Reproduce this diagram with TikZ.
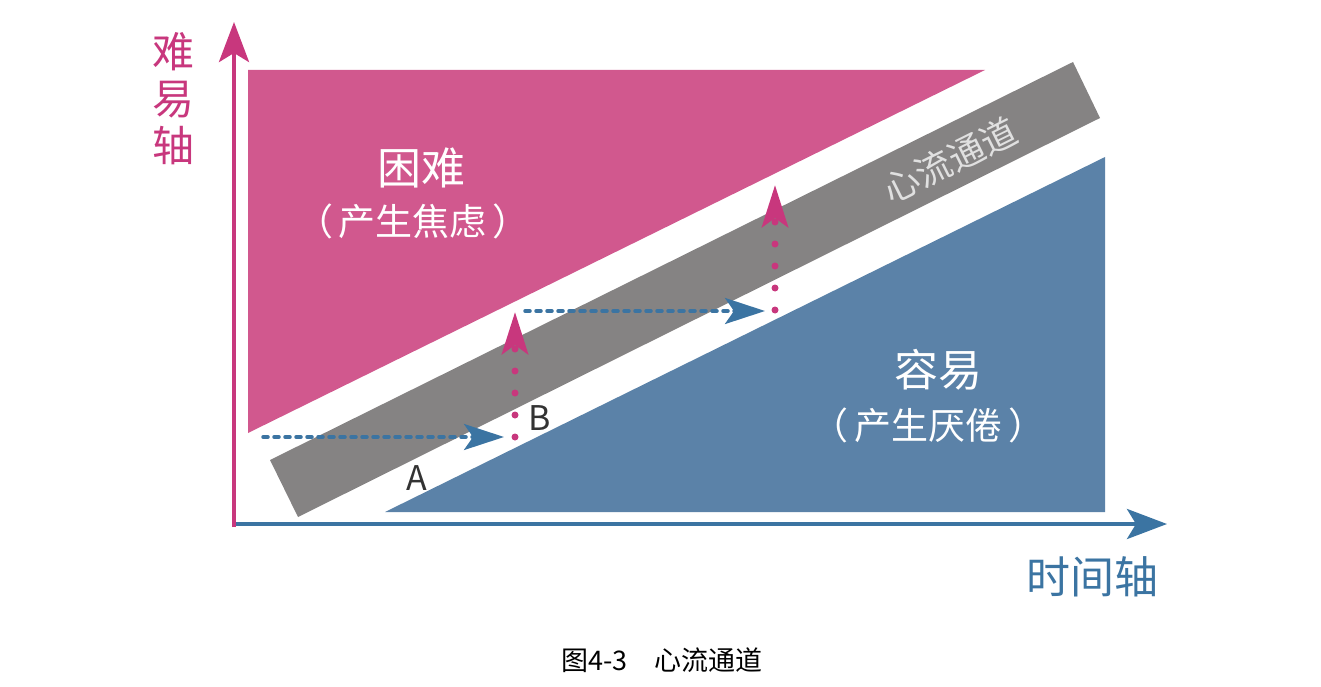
\documentclass[tikz,border=0pt]{standalone}
\usepackage{fontspec}
\setmainfont{Noto Sans CJK SC}
\usetikzlibrary{arrows.meta, positioning, calc}
\definecolor{hardpink}{HTML}{D1588E}
\definecolor{axispink}{HTML}{C8377D}
\definecolor{flowgray}{HTML}{858383}
\definecolor{easyblue}{HTML}{5B82A8}
\definecolor{axisblue}{HTML}{3B74A2}
\tikzset{
  axis/.style={line width=4pt, -{Stealth[length=40pt, width=30pt, inset=9pt]}},
  hmove/.style={axisblue, line width=3.5pt, line cap=round, dash pattern=on 5pt off 6pt, -{Stealth[length=40pt, width=26pt, inset=9pt]}},
  vmove/.style={axispink, line width=7pt, line cap=round, dash pattern=on 0pt off 22pt, -{Stealth[length=42pt, width=26pt, inset=9pt]}},
  zone/.style={text=white, align=center},
  pointlabel/.style={text=black!80, font=\fontsize{34}{34}\selectfont},
}

\begin{document}
\begin{tikzpicture}[x=1pt, y=-1pt]
  \useasboundingbox (0,0) rectangle (1321,687);
  \fill[hardpink] (248,70) -- (985,70) -- (248,433) -- cycle;
  \fill[easyblue] (385,512) -- (1105,512) -- (1105,157) -- cycle;
  \fill[flowgray] (270,460) -- (298,517) -- (1100,118) -- (1073,62) -- cycle;

  \coordinate (origin) at (234,524);
  \coordinate (ytop) at (234,22);
  \coordinate (xend) at (1167,524);
  \draw[axis, axisblue] (232,524) -- (xend);
  \draw[axis, axispink] (234,527) -- (ytop);

  \node[text=axispink, align=center, font=\fontsize{42}{47}\selectfont] (ylabel) at (173,99) {难\\易\\轴};
  \node[text=axisblue, font=\fontsize{44}{44}\selectfont] (xlabel) at (1092,577) {时间轴};

  \node[zone, font=\fontsize{44}{44}\selectfont] (hard) at (421,168) {困难};
  \node[zone, font=\fontsize{37}{37}\selectfont] (hardnote) at (413,221) {（\hspace{6pt}产生焦虑\hspace{6pt}）};
  \node[zone, font=\fontsize{44}{44}\selectfont] (easy) at (938,370) {容易};
  \node[zone, font=\fontsize{37}{37}\selectfont] (easynote) at (928,425) {（\hspace{6pt}产生厌倦\hspace{6pt}）};

  \node[text=black!12, rotate=26.5, font=\fontsize{36}{36}\selectfont] (flow) at (950,160) {心流通道};

  \node[pointlabel] (A) at (417,478) {A};
  \node[pointlabel] (B) at (540,418) {B};

  \coordinate (s1) at (263,437);
  \coordinate (e1) at (504,437);
  \coordinate (b1) at (515,437);
  \coordinate (t1) at (515,312);
  \coordinate (s2) at (525,311);
  \coordinate (e2) at (765,311);
  \coordinate (b2) at (775,310);
  \coordinate (t2) at (775,185);
  \draw[hmove] (s1) -- (e1);
  \draw[vmove] (b1) -- (t1);
  \draw[hmove] (s2) -- (e2);
  \draw[vmove] (b2) -- (t2);

  \node[font=\fontsize{27}{27}\selectfont] (caption) at (662,660) {图4-3\quad 心流通道};
\end{tikzpicture}
\end{document}
